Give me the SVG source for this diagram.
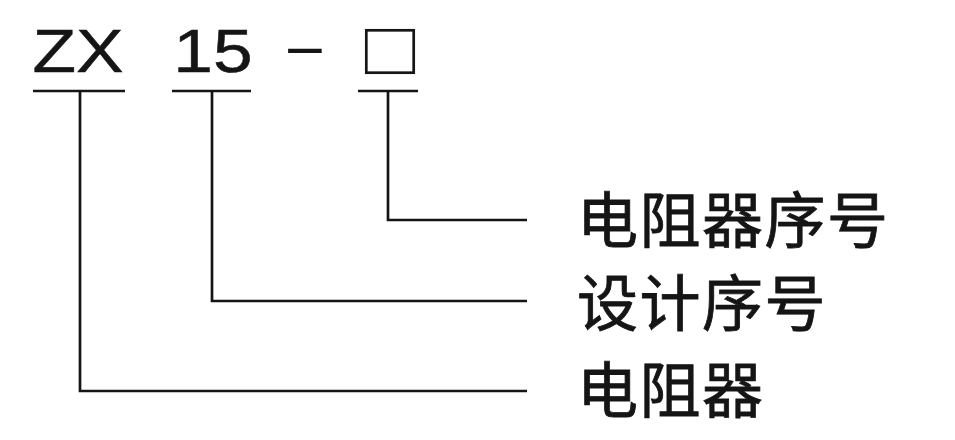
<svg xmlns="http://www.w3.org/2000/svg" width="955" height="440" viewBox="0 0 955 440">
<style>
.code{font-family:"Liberation Sans",Arial,sans-serif;font-size:62px;fill:#151515;stroke:#151515;stroke-width:0.5}
.dash{font-family:"Liberation Sans",Arial,sans-serif;font-size:55px;fill:#151515}
.lbl{font-family:"Noto Sans CJK SC","Noto Sans",sans-serif;font-size:61px;letter-spacing:1.5px;fill:#151515;stroke:#151515;stroke-width:0.8}
.ln{stroke:#151515;stroke-width:2.7;fill:none}
</style>
<rect width="955" height="440" fill="#fff"/>
<g id="code-zx">
<text class="code" text-anchor="middle" transform="translate(78,72) scale(1.15,1)">ZX</text>
<line class="ln" x1="33" y1="91" x2="125" y2="91"/>
</g>
<g id="code-15">
<text class="code" text-anchor="middle" transform="translate(213,72) scale(1.15,1)">15</text>
<line class="ln" x1="172" y1="91" x2="251" y2="91"/>
</g>
<g id="code-dash">
<text class="dash" text-anchor="middle" transform="translate(305,66) scale(2.5,1)">-</text>
</g>
<g id="code-box">
<rect class="ln" x="366.3" y="30.3" width="47.4" height="42.4"/>
<line class="ln" x1="358" y1="91" x2="418" y2="91"/>
</g>
<g id="connectors">
<polyline class="ln" points="388,91 388,220 527,220"/>
<polyline class="ln" points="212,91 212,301 527,301"/>
<polyline class="ln" points="80,91 80,391 527,391"/>
</g>
<g id="label-resistor-seq">
<text class="lbl" x="577" y="243">电阻器序号</text>
</g>
<g id="label-design-seq">
<text class="lbl" x="577" y="326">设计序号</text>
</g>
<g id="label-resistor">
<text class="lbl" x="577" y="413">电阻器</text>
</g>
</svg>
